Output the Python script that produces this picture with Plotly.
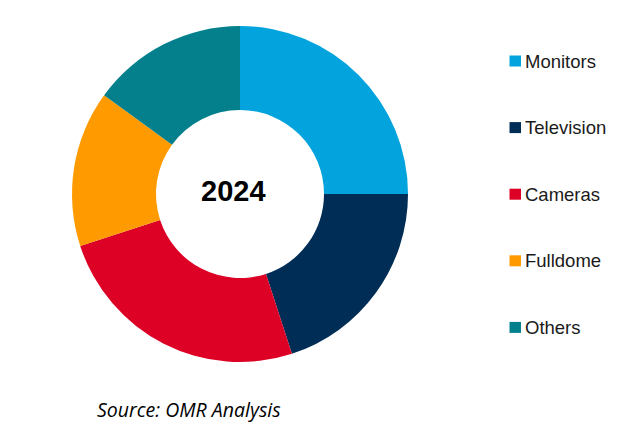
import plotly.graph_objects as go

segments = ['Monitors', 'Television', 'Cameras', 'Fulldome', 'Others']
shares = [25, 20, 25, 15, 15]
colors = ['#03A3DD', '#002D56', '#DC0125', '#FF9A00', '#03808C']
year_label = '2024'

W, H = 637, 447
OFF = 8  # page body margin pushes the figure 8px right and down


def px_x(x):
    return (x - OFF) / W


def px_y(y):
    return 1 - (y - OFF) / H


fig = go.Figure(go.Pie(
    labels=segments,
    values=shares,
    hole=0.5,
    sort=False,
    direction='clockwise',
    rotation=0,
    marker=dict(colors=colors, line=dict(width=0)),
    textinfo='none',
    showlegend=False,
    domain=dict(x=[px_x(72), px_x(408)], y=[px_y(362), px_y(26)]),
))

# hand-built legend so the entries can be spread out like the original
shapes = []
annotations = []
for i, (name, col) in enumerate(zip(segments, colors)):
    yc = 61 + i * 66.6
    shapes.append(dict(type='rect', xref='paper', yref='paper',
                       x0=px_x(509.5), x1=px_x(521),
                       y0=px_y(yc + 5.5), y1=px_y(yc - 5.5),
                       fillcolor=col, line=dict(width=0)))
    annotations.append(dict(x=px_x(523), y=px_y(yc), xref='paper', yref='paper',
                            text=name, showarrow=False, xanchor='left', yanchor='middle',
                            font=dict(family='Liberation Sans, Arial', size=18.5, color='#1a1a1a')))

annotations.append(dict(x=px_x(233), y=px_y(191), xref='paper', yref='paper',
                        text='<b>' + year_label + '</b>', showarrow=False,
                        font=dict(family='Liberation Sans, Arial', size=29, color='#000000')))
annotations.append(dict(x=px_x(95), y=px_y(409), xref='paper', yref='paper',
                        text='<i>Source: OMR Analysis</i>', showarrow=False,
                        xanchor='left', yanchor='middle',
                        font=dict(family='Open Sans, sans-serif', size=19.5, color='#000000')))

fig.update_layout(
    width=W, height=H,
    margin=dict(l=0, r=0, t=0, b=0),
    paper_bgcolor='white',
    plot_bgcolor='white',
    shapes=shapes,
    annotations=annotations,
)

fig.write_html("out.html")
